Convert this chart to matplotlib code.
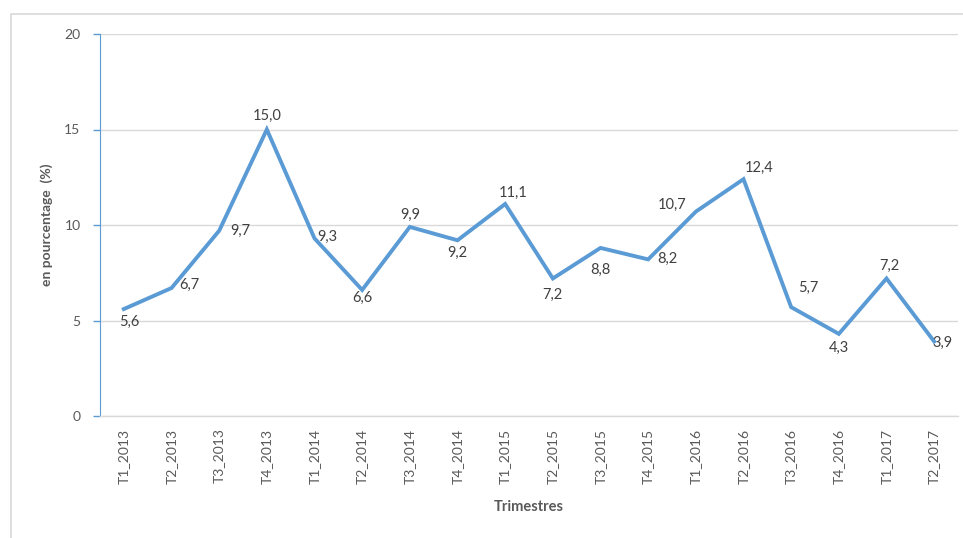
import matplotlib
matplotlib.use("Agg")
import matplotlib.pyplot as plt
from matplotlib.patches import Rectangle

plt.rcParams['font.family'] = ['Lato', 'DejaVu Sans']

# ---------- Data ----------
trimestres = ["T1_2013", "T2_2013", "T3_2013", "T4_2013",
              "T1_2014", "T2_2014", "T3_2014", "T4_2014",
              "T1_2015", "T2_2015", "T3_2015", "T4_2015",
              "T1_2016", "T2_2016", "T3_2016", "T4_2016",
              "T1_2017", "T2_2017"]
valeurs = [5.6, 6.7, 9.7, 15.0, 9.3, 6.6, 9.9, 9.2, 11.1, 7.2,
           8.8, 8.2, 10.7, 12.4, 5.7, 4.3, 7.2, 3.9]

# label offsets (points) as placed in the original chart
label_off = [(4, -9), (13, 2), (15, 0), (0, 10), (9, 1), (0, -6),
             (0, 9), (0, -9), (6, 8), (0, -12), (0, -16), (14, 0),
             (-17, 5), (11, 8), (12, 14), (0, -10), (2, 9), (6, -1)]

BLUE = "#5B9BD5"
GRID = "#D9D9D9"
TXT = "#595959"

fig = plt.figure(figsize=(9.63, 5.38), dpi=100)
fig.patches.append(Rectangle((11 / 963, -0.1), 1.2, 1.1 - 14 / 538,
                             transform=fig.transFigure, fill=False,
                             edgecolor="#D9D9D9", lw=1.2, zorder=0))

ax = fig.add_axes([100 / 963, 1 - 416 / 538, 858 / 963, 382 / 538])
x = list(range(len(trimestres)))
ax.plot(x, valeurs, color=BLUE, lw=2.8, solid_joinstyle="miter", zorder=3)

for xi, v, (dx, dy) in zip(x, valeurs, label_off):
    ax.annotate(f"{v:.1f}".replace(".", ","), (xi, v), xytext=(dx, dy),
                textcoords="offset points", ha="center", va="center",
                fontsize=10.5, color="#404040", zorder=4)

ax.set_xlim(-0.5, len(trimestres) - 0.5)
ax.set_ylim(0, 20)
ax.set_yticks([0, 5, 10, 15, 20])
ax.set_xticks(x)
ax.set_xticklabels(trimestres, rotation=90, fontsize=10, color=TXT)
ax.tick_params(axis="x", length=0, pad=9)
ax.tick_params(axis="y", colors=BLUE, length=5, width=1, labelcolor=TXT,
               labelsize=10, pad=9)
ax.grid(axis="y", color=GRID, lw=1)
ax.set_axisbelow(True)
for s in ["top", "right"]:
    ax.spines[s].set_visible(False)
ax.spines["left"].set_color(BLUE)
ax.spines["bottom"].set_color(GRID)
ax.spines["bottom"].set_linewidth(1)

ax.set_ylabel("en pourcentage  (%)", fontsize=10, fontweight="bold",
              color=TXT, labelpad=8)
ax.set_xlabel("Trimestres", fontsize=10.5, fontweight="bold", color=TXT,
              labelpad=12)

fig.savefig("out.png", dpi=100, facecolor="white")
